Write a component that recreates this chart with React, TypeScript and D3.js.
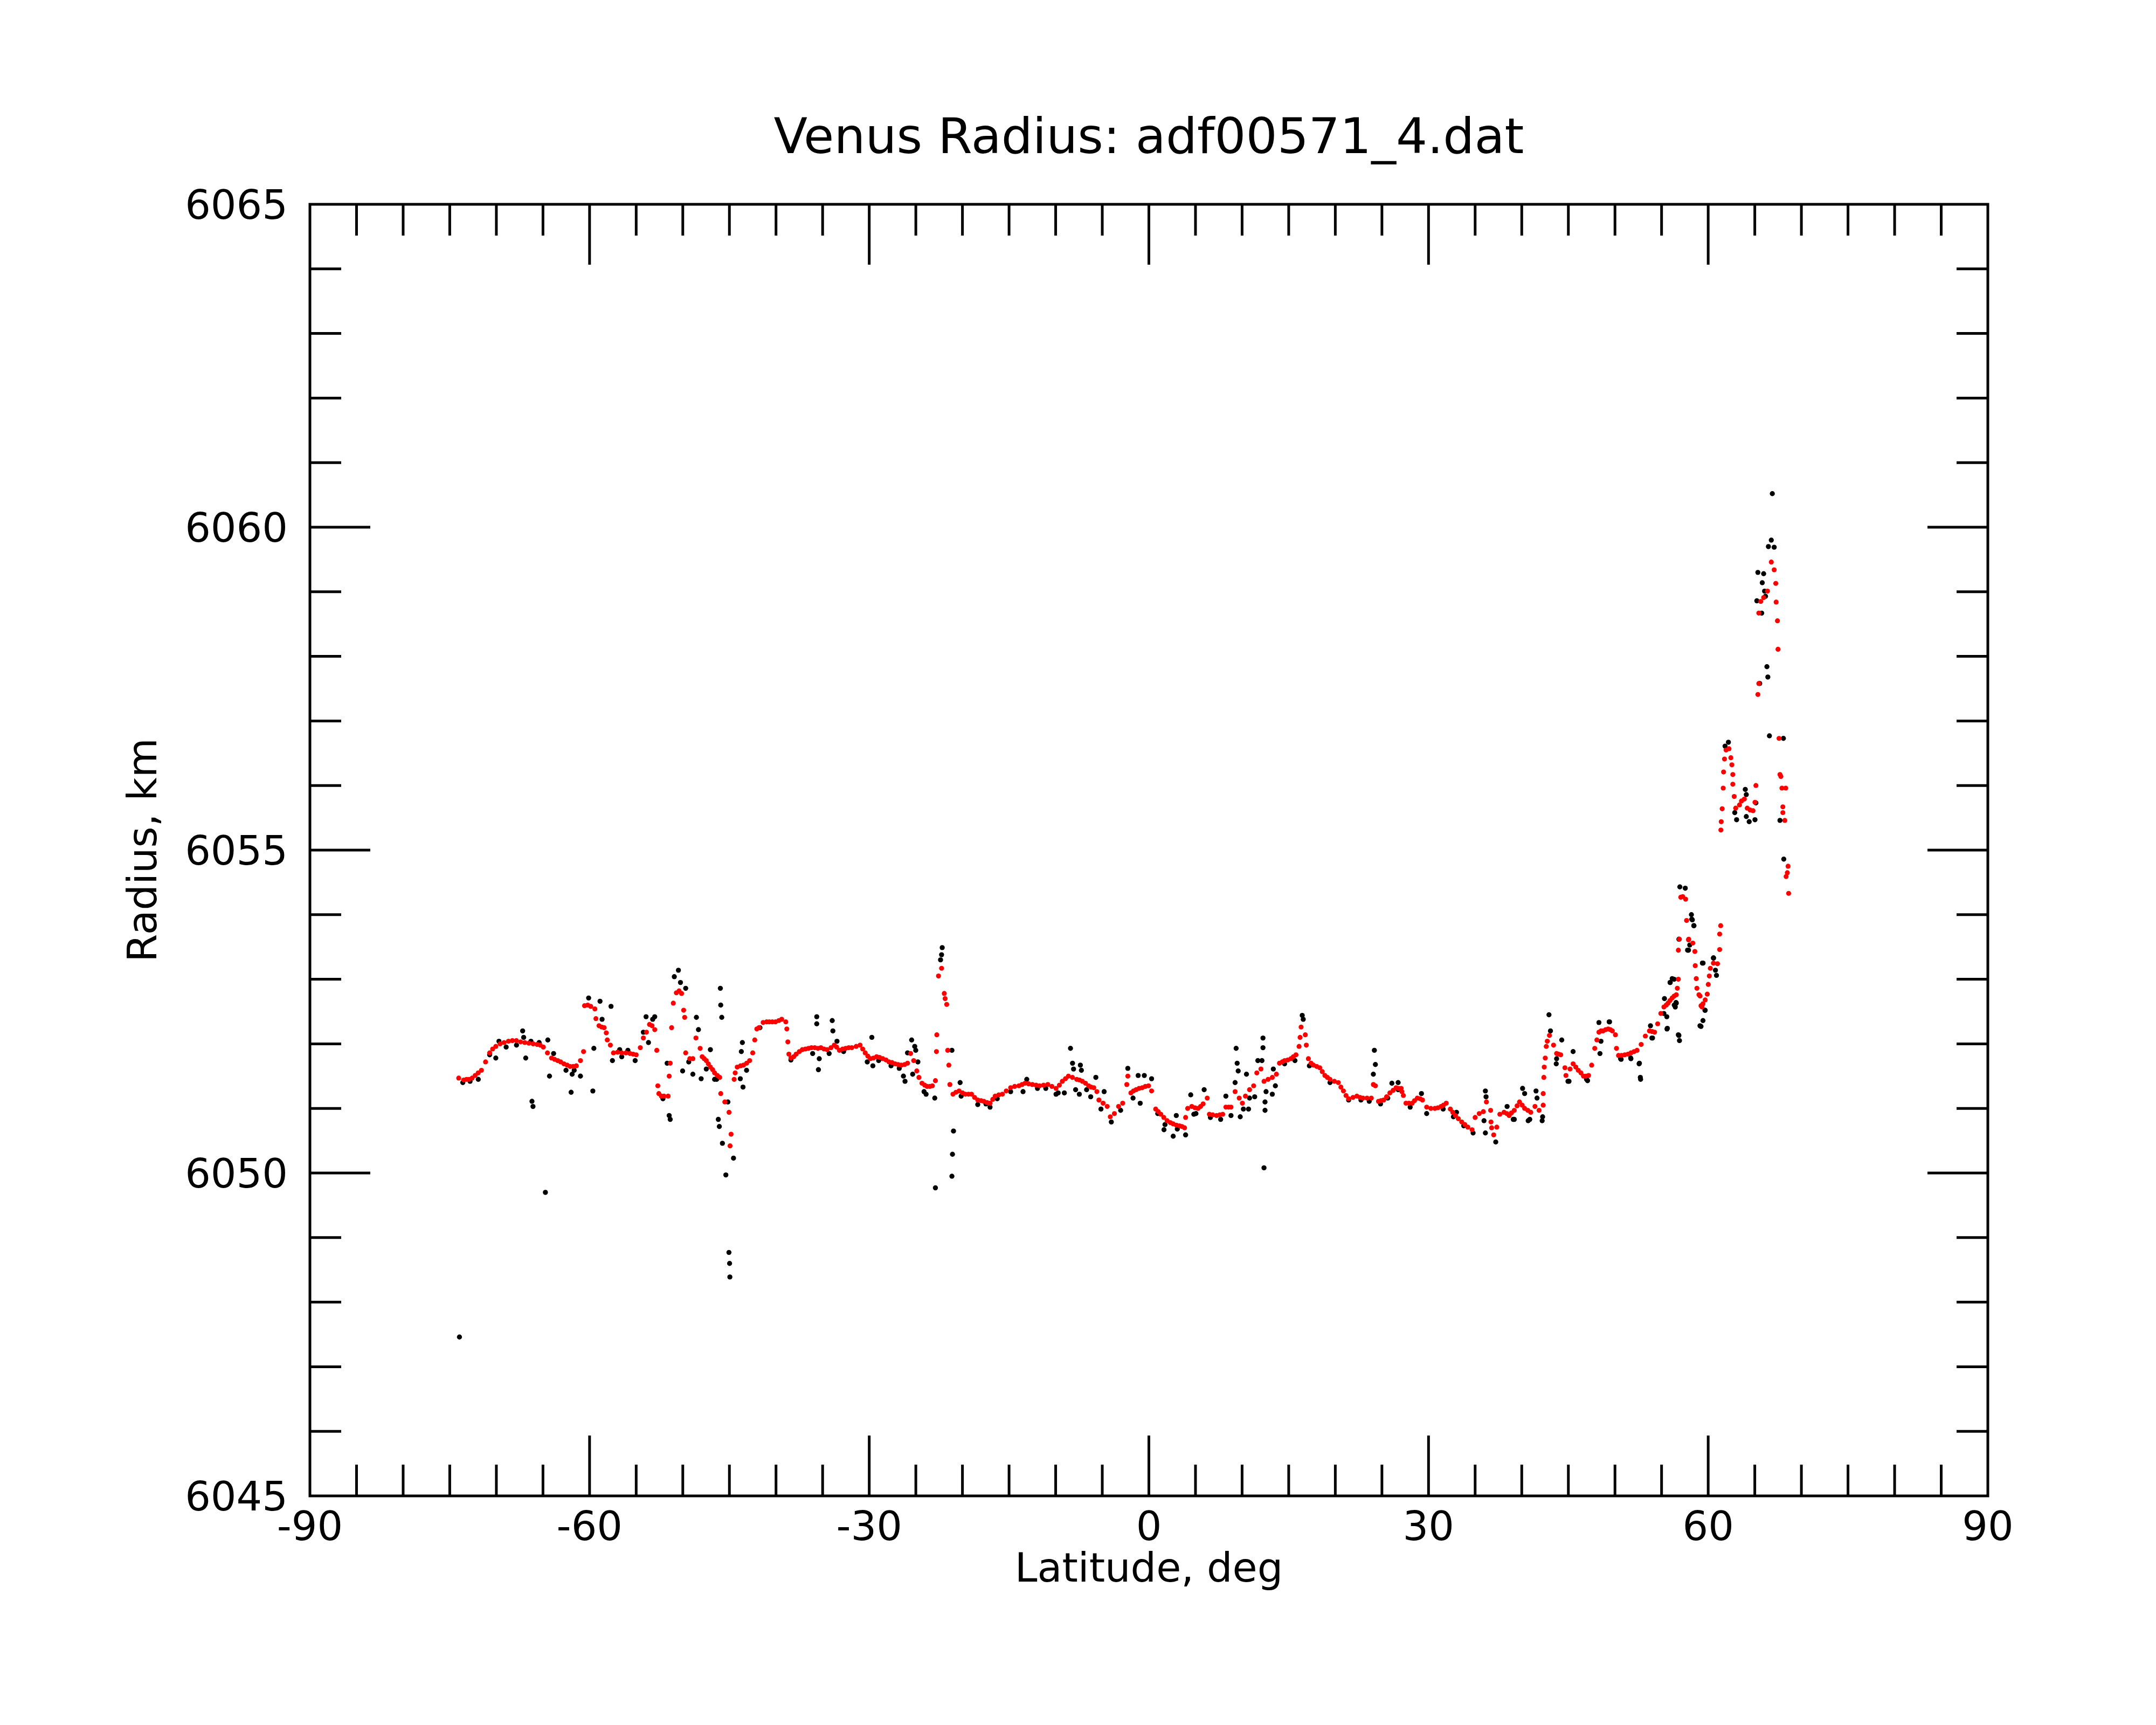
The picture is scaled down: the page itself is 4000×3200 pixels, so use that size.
import { useEffect, useRef } from "react";
import * as d3 from "d3";

// [latitude deg, radius km]
// black = raw samples, red = smoothed samples

const rawSouth: [number, number][] = [
  [-73.96, 6047.46], [-73.60, 6051.40], [-72.82, 6051.42], [-71.94, 6051.45], [-70.72, 6051.83],
  [-70.06, 6051.78], [-69.72, 6052.04], [-68.95, 6051.95], [-67.84, 6051.98], [-67.18, 6052.20],
  [-67.07, 6052.10], [-66.85, 6051.78], [-66.29, 6052.04], [-66.18, 6051.11], [-66.07, 6051.03],
  [-65.41, 6052.02], [-64.74, 6049.70], [-64.48, 6052.06], [-64.30, 6051.50], [-63.86, 6051.85],
  [-62.53, 6051.59], [-61.98, 6051.25], [-61.87, 6051.53], [-61.65, 6051.59], [-60.98, 6051.50],
  [-60.10, 6052.71], [-59.65, 6051.27], [-59.54, 6051.93], [-58.88, 6052.66], [-58.66, 6052.38],
  [-57.70, 6052.58], [-57.55, 6051.74], [-56.77, 6051.91], [-56.55, 6051.80], [-55.89, 6051.90],
  [-55.11, 6051.74], [-54.23, 6052.18], [-53.94, 6052.42], [-53.68, 6052.02], [-53.23, 6052.38],
  [-53.01, 6052.42], [-52.13, 6051.15], [-51.68, 6051.70], [-51.46, 6050.89], [-51.35, 6050.83],
  [-50.91, 6053.04], [-50.47, 6053.14], [-50.25, 6052.95], [-50.02, 6051.58], [-49.69, 6052.86],
  [-49.36, 6051.72], [-48.92, 6051.53], [-48.54, 6052.41], [-48.32, 6052.22], [-48.03, 6051.46],
  [-47.48, 6051.61], [-47.04, 6051.91], [-46.59, 6051.45], [-46.37, 6051.45], [-46.19, 6050.83],
  [-46.08, 6050.72], [-45.97, 6052.86], [-45.93, 6052.60], [-45.82, 6052.41], [-45.75, 6050.46],
  [-45.38, 6049.97], [-45.16, 6051.10], [-45.05, 6048.77], [-44.98, 6048.60], [-44.95, 6048.39],
  [-44.56, 6050.23], [-43.83, 6051.46], [-43.72, 6051.88], [-43.61, 6052.02], [-43.54, 6051.33],
  [-43.16, 6051.59], [-41.72, 6052.25],
];

const rawMid: [number, number][] = [
  [-38.40, 6051.75], [-36.07, 6051.85], [-35.63, 6052.42], [-35.63, 6052.31], [-35.45, 6051.60],
  [-35.36, 6051.77], [-34.30, 6051.85], [-33.97, 6052.36], [-33.90, 6052.20], [-33.46, 6052.04],
  [-32.75, 6051.88], [-30.21, 6051.72], [-29.72, 6052.10], [-29.61, 6051.66], [-28.99, 6051.74],
  [-27.66, 6051.66], [-26.78, 6051.62], [-26.33, 6051.50], [-26.16, 6051.42], [-25.89, 6051.86],
  [-25.45, 6052.06], [-25.34, 6051.53], [-25.12, 6051.96], [-25.01, 6051.90], [-24.78, 6051.72],
  [-24.12, 6051.26], [-23.90, 6051.22], [-22.97, 6051.16], [-22.90, 6049.77], [-22.35, 6053.30],
  [-22.24, 6053.38], [-22.17, 6053.49], [-21.13, 6051.90], [-21.13, 6049.95], [-21.07, 6050.29],
  [-20.96, 6050.65], [-20.25, 6051.40], [-20.14, 6051.19], [-18.36, 6051.06], [-17.48, 6051.07],
  [-17.04, 6051.02], [-16.27, 6051.15], [-14.83, 6051.26], [-13.50, 6051.26], [-13.10, 6051.45],
  [-11.95, 6051.31], [-11.06, 6051.31], [-9.96, 6051.22], [-9.73, 6051.24], [-9.07, 6051.24],
  [-8.41, 6051.93], [-8.19, 6051.70], [-8.08, 6051.61], [-7.86, 6051.29],
];

const rawEquator: [number, number][] = [
  [-7.46, 6051.22], [-7.35, 6051.67], [-7.24, 6051.59], [-6.68, 6051.29], [-6.24, 6051.18],
  [-5.69, 6051.48], [-5.14, 6050.99], [-4.80, 6051.26], [-4.03, 6050.79], [-3.03, 6050.97],
  [-2.26, 6051.62], [-1.70, 6051.16], [-1.15, 6051.51], [-0.93, 6051.08], [-0.49, 6051.51],
  [0.29, 6051.46], [0.95, 6050.92], [1.62, 6050.67], [1.73, 6050.75], [2.61, 6050.57],
  [2.94, 6050.89], [3.05, 6050.68], [3.94, 6050.59], [4.49, 6051.21], [4.82, 6050.91],
  [5.05, 6050.92], [5.93, 6051.29], [6.60, 6050.86], [7.70, 6050.83], [8.26, 6051.19],
  [8.81, 6050.89], [9.25, 6051.40], [9.36, 6051.93], [9.47, 6051.70], [9.58, 6051.58],
  [9.80, 6050.87], [10.14, 6050.99], [10.47, 6051.53], [10.69, 6050.99], [10.80, 6051.16],
  [11.35, 6051.18], [11.69, 6051.74], [12.13, 6051.74], [12.24, 6052.09], [12.24, 6051.94],
  [12.35, 6050.08], [12.46, 6051.10], [12.46, 6050.97], [12.57, 6051.26], [13.24, 6051.22],
  [13.35, 6051.61], [13.57, 6051.35], [14.56, 6051.69], [15.67, 6051.74], [16.45, 6052.44],
  [16.56, 6052.38], [17.22, 6051.66], [19.43, 6051.40], [21.43, 6051.13], [22.75, 6051.13],
  [23.64, 6051.11], [24.08, 6051.53], [24.19, 6051.90], [24.30, 6051.68], [24.85, 6051.07],
  [25.63, 6051.16], [26.07, 6051.39], [26.74, 6051.40], [26.74, 6051.29],
];

const rawNorth: [number, number][] = [
  [28.03, 6051.02], [29.24, 6051.23], [29.80, 6050.92], [31.57, 6050.99], [32.67, 6050.87],
  [33.00, 6050.94], [33.78, 6050.73], [34.78, 6050.62], [35.95, 6050.81], [36.10, 6051.27],
  [36.17, 6051.18], [36.10, 6050.62], [37.21, 6050.48], [38.43, 6051.03], [39.09, 6050.83],
  [39.20, 6050.83], [40.09, 6051.31], [40.31, 6051.23], [40.69, 6050.81], [40.86, 6050.83],
  [41.53, 6051.27], [41.64, 6051.16], [42.19, 6050.81], [42.24, 6050.87], [42.92, 6052.45],
  [43.08, 6052.20], [43.70, 6051.69], [43.74, 6051.77], [44.29, 6052.06], [44.96, 6051.42],
  [45.07, 6051.42], [45.51, 6051.88], [46.95, 6051.45], [47.06, 6051.43], [48.28, 6052.33],
  [48.39, 6051.85], [48.50, 6052.04], [49.38, 6052.34], [49.42, 6052.34], [50.60, 6051.77],
  [50.66, 6051.76], [51.69, 6051.78], [51.71, 6051.77], [52.59, 6051.69], [52.62, 6051.70],
  [52.72, 6051.48], [52.75, 6051.45], [53.81, 6052.28], [53.96, 6052.09], [54.03, 6052.09],
  [55.25, 6052.47], [55.31, 6052.70], [55.56, 6052.42], [55.58, 6052.23], [55.62, 6052.24],
  [55.91, 6052.95], [55.93, 6052.95], [56.14, 6053.01], [56.34, 6053.00], [56.36, 6052.60],
  [56.47, 6052.57], [56.55, 6052.64], [56.58, 6052.63], [56.80, 6052.14], [56.86, 6052.13],
  [56.86, 6053.62], [56.92, 6052.05], [56.96, 6054.43], [57.54, 6054.41], [57.79, 6053.45],
  [57.89, 6053.45], [58.02, 6053.53], [58.20, 6054.00], [58.24, 6053.93], [58.30, 6053.92],
  [58.46, 6053.83], [58.47, 6053.83], [59.12, 6052.28], [59.23, 6052.27], [59.38, 6053.25],
  [59.44, 6052.36], [59.45, 6053.25], [59.65, 6052.52], [59.68, 6052.52], [60.56, 6053.33],
  [60.58, 6053.33], [60.78, 6053.14], [60.89, 6053.06],
];

const rawPolar: [number, number][] = [
  [61.81, 6056.61], [62.17, 6056.67], [62.85, 6055.58], [63.05, 6055.47], [63.98, 6055.94],
  [64.09, 6055.86], [64.09, 6055.52], [64.40, 6055.44], [65.02, 6055.47], [65.12, 6055.73],
  [65.22, 6058.86], [65.33, 6059.30], [65.53, 6057.58], [65.74, 6058.67], [65.80, 6059.14],
  [65.95, 6059.28], [66.05, 6059.01], [66.15, 6058.93], [66.30, 6057.84], [66.40, 6057.68],
  [66.46, 6059.70], [66.57, 6056.77], [66.77, 6059.80], [66.88, 6060.52], [67.08, 6059.69],
  [67.70, 6055.46], [68.07, 6056.73], [68.11, 6054.86],
];

const smoothSouth: [number, number][] = [
  [-74.04, 6051.47], [-73.50, 6051.44], [-73.20, 6051.45], [-72.93, 6051.45], [-72.60, 6051.47],
  [-72.27, 6051.51], [-71.95, 6051.55], [-71.60, 6051.59], [-71.16, 6051.72], [-70.72, 6051.86],
  [-70.40, 6051.92], [-70.06, 6051.96], [-69.60, 6052.00], [-69.17, 6052.02], [-68.70, 6052.04],
  [-68.28, 6052.05], [-67.85, 6052.05], [-67.40, 6052.03], [-66.95, 6052.02], [-66.51, 6052.01],
  [-66.05, 6052.00], [-65.63, 6051.99], [-65.30, 6051.98], [-64.96, 6051.95], [-64.52, 6051.86],
  [-64.08, 6051.78], [-63.75, 6051.76], [-63.42, 6051.74], [-63.10, 6051.72], [-62.75, 6051.69],
  [-62.40, 6051.67], [-62.09, 6051.65], [-61.75, 6051.65], [-61.42, 6051.66], [-60.98, 6051.74],
  [-60.65, 6051.88], [-60.54, 6052.59], [-60.20, 6052.60], [-59.87, 6052.58], [-59.43, 6052.54],
  [-59.32, 6052.39], [-58.99, 6052.28], [-58.70, 6052.26], [-58.44, 6052.25], [-58.21, 6052.17],
  [-58.10, 6052.06], [-57.77, 6051.98], [-57.44, 6051.86], [-57.00, 6051.87], [-56.55, 6051.86],
  [-56.10, 6051.86], [-55.67, 6051.85], [-55.33, 6051.84], [-55.00, 6051.83], [-54.56, 6051.94],
  [-54.23, 6052.09], [-53.90, 6052.18], [-53.57, 6052.30], [-53.30, 6052.28], [-53.01, 6052.22],
  [-52.79, 6051.90], [-52.68, 6051.35], [-52.57, 6051.23], [-52.30, 6051.19], [-52.02, 6051.19],
  [-51.57, 6051.19], [-51.46, 6051.50], [-51.35, 6051.70], [-51.20, 6052.25], [-51.02, 6052.63],
  [-50.69, 6052.79], [-50.40, 6052.82], [-50.13, 6052.78], [-49.91, 6052.52], [-49.80, 6052.41],
  [-49.69, 6051.86], [-49.25, 6051.77], [-48.92, 6051.77], [-48.59, 6052.09], [-48.14, 6051.93],
  [-47.92, 6051.80], [-47.70, 6051.77], [-47.48, 6051.74], [-47.26, 6051.69], [-47.04, 6051.64],
  [-46.80, 6051.60], [-46.59, 6051.55], [-46.30, 6051.51], [-46.04, 6051.48], [-45.93, 6051.23],
  [-45.49, 6051.10], [-45.04, 6050.94], [-44.82, 6050.60], [-44.93, 6050.42], [-44.49, 6051.45],
  [-44.38, 6051.55], [-44.16, 6051.64], [-43.80, 6051.66], [-43.49, 6051.67], [-43.15, 6051.70],
  [-42.83, 6051.74], [-42.50, 6051.86], [-42.28, 6052.06], [-42.06, 6052.23],
];

const smoothMid: [number, number][] = [
  [-41.83, 6052.25], [-41.38, 6052.33], [-41.00, 6052.34], [-40.72, 6052.34], [-40.40, 6052.34],
  [-40.06, 6052.34], [-39.70, 6052.36], [-39.39, 6052.38], [-38.95, 6052.34], [-38.84, 6052.23],
  [-38.73, 6052.03], [-38.62, 6051.84], [-38.40, 6051.78], [-38.10, 6051.80], [-37.84, 6051.84],
  [-37.50, 6051.88], [-37.18, 6051.91], [-36.85, 6051.92], [-36.52, 6051.93], [-36.20, 6051.94],
  [-35.85, 6051.94], [-35.50, 6051.93], [-35.19, 6051.94], [-34.85, 6051.92], [-34.52, 6051.91],
  [-34.10, 6051.94], [-33.75, 6051.98], [-33.50, 6051.95], [-33.20, 6051.90], [-32.85, 6051.92],
  [-32.53, 6051.93], [-32.20, 6051.94], [-31.87, 6051.94], [-31.40, 6051.96], [-30.98, 6051.98],
  [-30.70, 6051.92], [-30.43, 6051.86], [-30.15, 6051.81], [-29.88, 6051.77], [-29.55, 6051.78],
  [-29.21, 6051.80], [-28.90, 6051.79], [-28.55, 6051.77], [-28.20, 6051.75], [-27.88, 6051.72],
  [-27.55, 6051.71], [-27.22, 6051.69], [-26.90, 6051.68], [-26.56, 6051.67], [-26.20, 6051.68],
  [-25.89, 6051.70], [-25.56, 6051.85], [-25.23, 6051.74], [-24.90, 6051.58], [-24.67, 6051.48],
  [-24.34, 6051.39], [-24.05, 6051.36], [-23.79, 6051.34], [-23.50, 6051.34], [-23.23, 6051.35],
  [-22.90, 6051.43], [-22.79, 6051.88], [-22.75, 6052.14], [-22.57, 6053.05], [-22.24, 6053.17],
  [-21.95, 6052.78], [-21.86, 6052.70], [-21.69, 6052.61], [-21.58, 6051.90], [-21.46, 6051.67],
  [-21.35, 6051.37], [-21.02, 6051.22], [-20.70, 6051.25], [-20.36, 6051.27], [-20.00, 6051.24],
  [-19.69, 6051.22], [-19.35, 6051.22], [-19.03, 6051.22], [-18.70, 6051.17], [-18.36, 6051.13],
  [-18.00, 6051.12], [-17.70, 6051.11], [-17.35, 6051.09], [-17.04, 6051.08], [-16.75, 6051.14],
  [-16.49, 6051.19], [-16.10, 6051.21], [-15.71, 6051.22], [-15.30, 6051.27], [-14.83, 6051.32],
  [-14.40, 6051.34], [-13.94, 6051.35], [-13.60, 6051.37], [-13.28, 6051.39], [-12.90, 6051.38],
  [-12.50, 6051.37], [-12.10, 6051.36], [-11.73, 6051.35], [-11.30, 6051.36], [-10.84, 6051.37],
  [-10.40, 6051.34], [-9.96, 6051.31], [-9.60, 6051.36], [-9.29, 6051.42], [-8.95, 6051.46],
  [-8.63, 6051.50], [-8.20, 6051.48], [-7.74, 6051.45],
];

const smoothEquator: [number, number][] = [
  [-7.45, 6051.44], [-7.13, 6051.42], [-6.80, 6051.39], [-6.46, 6051.35], [-6.20, 6051.33],
  [-5.91, 6051.32], [-5.58, 6051.26], [-5.36, 6051.13], [-4.91, 6051.08], [-4.47, 6051.03],
  [-4.14, 6050.87], [-3.70, 6050.92], [-3.25, 6051.03], [-2.81, 6051.08], [-2.37, 6051.37],
  [-2.26, 6051.50], [-1.93, 6051.24], [-1.65, 6051.27], [-1.37, 6051.29], [-1.05, 6051.31],
  [-0.71, 6051.32], [-0.38, 6051.34], [-0.04, 6051.35], [0.29, 6051.27], [0.73, 6050.99],
  [1.00, 6050.95], [1.28, 6050.91], [1.60, 6050.86], [1.95, 6050.81], [2.30, 6050.78],
  [2.61, 6050.76], [2.95, 6050.74], [3.28, 6050.73], [3.55, 6050.72], [3.83, 6050.70],
  [3.94, 6050.86], [4.16, 6051.00], [4.60, 6051.03], [4.95, 6051.01], [5.27, 6051.00],
  [5.55, 6051.03], [5.82, 6051.07], [6.26, 6051.16], [6.49, 6050.91], [6.85, 6050.90],
  [7.26, 6050.89], [7.60, 6050.90], [7.92, 6050.91], [8.26, 6051.02], [8.55, 6051.02],
  [8.81, 6051.02], [9.25, 6051.26], [9.69, 6051.16], [10.03, 6051.08], [10.36, 6051.19],
  [10.80, 6051.29], [11.24, 6051.35], [11.58, 6051.55], [12.02, 6051.61], [12.35, 6051.42],
  [12.79, 6051.45], [13.24, 6051.48], [13.68, 6051.53], [14.01, 6051.70], [14.30, 6051.72],
  [14.56, 6051.74], [14.90, 6051.75], [15.23, 6051.77], [15.50, 6051.80], [15.78, 6051.83],
  [16.11, 6051.96], [16.22, 6052.10], [16.33, 6052.26], [16.78, 6052.14], [16.89, 6051.98],
  [17.11, 6051.77], [17.40, 6051.70], [17.66, 6051.67], [18.00, 6051.65], [18.33, 6051.63],
  [18.60, 6051.57], [18.88, 6051.51], [19.15, 6051.48], [19.43, 6051.45], [19.90, 6051.42],
  [20.32, 6051.40], [20.60, 6051.33], [20.87, 6051.27], [21.15, 6051.20], [21.43, 6051.15],
  [21.90, 6051.17], [22.31, 6051.19], [22.65, 6051.17], [22.97, 6051.16], [23.40, 6051.16],
  [23.86, 6051.16], [24.08, 6051.37], [24.30, 6051.35], [24.63, 6051.11], [24.90, 6051.12],
  [25.19, 6051.13], [25.50, 6051.18], [25.85, 6051.24], [26.20, 6051.28], [26.52, 6051.32],
  [26.80, 6051.31], [27.07, 6051.31],
];

const smoothNorth: [number, number][] = [
  [27.14, 6051.26], [27.30, 6051.20], [27.58, 6051.08], [27.90, 6051.08], [28.25, 6051.08],
  [28.50, 6051.12], [28.80, 6051.16], [29.10, 6051.15], [29.35, 6051.13], [29.80, 6051.02],
  [30.25, 6051.00], [30.68, 6051.00], [31.00, 6051.01], [31.35, 6051.03], [31.60, 6051.05],
  [31.90, 6051.08], [32.34, 6050.99], [32.60, 6050.94], [32.89, 6050.89], [33.20, 6050.84],
  [33.56, 6050.79], [33.90, 6050.75], [34.22, 6050.71], [34.67, 6050.67], [35.00, 6050.86],
  [35.44, 6050.92], [35.88, 6050.95], [36.21, 6051.10], [36.66, 6050.97], [36.70, 6050.79],
  [36.77, 6050.70], [36.99, 6050.59], [37.32, 6050.71], [37.65, 6050.91], [38.10, 6050.94],
  [38.40, 6050.92], [38.65, 6050.89], [38.90, 6050.93], [39.20, 6050.97], [39.50, 6051.04],
  [39.76, 6051.10], [40.05, 6051.05], [40.31, 6051.00], [40.65, 6050.97], [40.97, 6050.94],
  [41.42, 6051.03], [41.86, 6050.97], [42.30, 6051.05], [42.30, 6051.23], [42.37, 6051.48],
  [42.41, 6051.64], [42.52, 6051.78], [42.63, 6051.96], [42.74, 6052.04], [42.97, 6052.13],
  [43.41, 6051.98], [43.74, 6051.85], [43.95, 6051.84], [44.18, 6051.83], [44.63, 6051.63],
  [44.74, 6051.51], [45.18, 6051.61], [45.51, 6051.69], [45.80, 6051.64], [46.06, 6051.59],
  [46.35, 6051.55], [46.62, 6051.50], [46.90, 6051.50], [47.17, 6051.51], [47.50, 6051.67],
  [47.83, 6051.93], [48.06, 6052.06], [48.28, 6052.18], [48.50, 6052.20], [48.72, 6052.20],
  [49.00, 6052.22], [49.27, 6052.23], [49.50, 6052.22], [49.72, 6052.20], [50.05, 6052.14],
  [50.16, 6051.93], [50.38, 6051.82], [50.70, 6051.82], [51.05, 6051.83], [51.40, 6051.84],
  [51.71, 6051.86], [52.05, 6051.88], [52.37, 6051.90], [52.81, 6051.99], [53.26, 6052.12],
  [53.70, 6052.20], [54.00, 6052.19], [54.25, 6052.18], [54.58, 6052.31], [54.92, 6052.47],
  [55.25, 6052.57], [55.50, 6052.60], [55.69, 6052.63], [55.90, 6052.67], [56.14, 6052.71],
  [56.35, 6052.74], [56.58, 6052.76], [56.69, 6052.86], [56.80, 6053.00], [56.80, 6053.45],
  [56.91, 6053.62], [57.06, 6054.27], [57.27, 6054.28], [57.58, 6054.24], [57.68, 6053.91],
  [57.89, 6053.61], [57.91, 6053.62], [58.35, 6053.56], [58.57, 6053.43], [58.61, 6053.21],
  [58.72, 6053.01], [58.79, 6052.86], [59.01, 6052.76], [59.13, 6052.74], [59.23, 6052.59],
  [59.34, 6052.57], [59.44, 6052.62], [59.68, 6052.68], [59.90, 6052.77], [60.01, 6052.92],
  [60.12, 6053.05], [60.23, 6053.17], [60.56, 6053.25], [61.00, 6053.24], [61.23, 6053.46],
  [61.23, 6053.70], [61.34, 6053.83],
];

const smoothPolar: [number, number][] = [
  [61.36, 6055.31], [61.40, 6055.44], [61.50, 6055.64], [61.61, 6055.96], [61.65, 6056.21],
  [61.75, 6056.41], [61.92, 6056.55], [62.23, 6056.57], [62.43, 6056.43], [62.54, 6056.32],
  [62.64, 6056.17], [62.64, 6056.02], [62.79, 6055.83], [62.95, 6055.65], [63.36, 6055.70],
  [63.57, 6055.76], [63.88, 6055.79], [64.19, 6055.65], [64.50, 6055.62], [64.81, 6055.61],
  [65.02, 6055.74], [65.12, 6056.00], [65.33, 6057.41], [65.43, 6057.58], [65.43, 6058.67],
  [65.64, 6058.85], [65.95, 6058.91], [66.36, 6059.01], [66.77, 6059.46], [67.08, 6059.34],
  [67.25, 6059.13], [67.29, 6058.84], [67.43, 6058.55], [67.49, 6058.11], [67.60, 6056.73],
  [67.70, 6056.17], [67.80, 6056.14], [67.91, 6055.96], [68.32, 6055.96], [68.01, 6055.67],
  [68.01, 6055.58], [68.22, 6055.46], [68.57, 6054.75], [68.49, 6054.65], [68.36, 6054.59],
  [68.63, 6054.33],
];

const xTickLabels = ["-90", "-60", "-30", "0", "30", "60", "90"];
const yTickLabels = ["6045", "6050", "6055", "6060", "6065"];

const TITLE = "Venus Radius: adf00571_4.dat";
const X_TITLE = "Latitude, deg";
const Y_TITLE = "Radius, km";

export default function App() {
  const svgRef = useRef<SVGSVGElement>(null);

  useEffect(() => {
    const svg = d3.select(svgRef.current);
    svg.selectAll("*").remove();

    const width = 4000;
    const height = 3200;
    const margin = { top: 379, right: 312, bottom: 425, left: 575 };
    const W = width - margin.left - margin.right;
    const H = height - margin.top - margin.bottom;
    const font = "DejaVu Sans, sans-serif";

    const x = d3.scaleLinear().domain([-90, 90]).range([0, W]);
    const y = d3.scaleLinear().domain([6045, 6065]).range([H, 0]);

    svg.append("rect").attr("width", width).attr("height", height).attr("fill", "white");

    const g = svg.append("g").attr("transform", `translate(${margin.left},${margin.top})`);

    // points: raw first, smoothed on top
    const raw = [...rawSouth, ...rawMid, ...rawEquator, ...rawNorth, ...rawPolar];
    const smooth = [...smoothSouth, ...smoothMid, ...smoothEquator, ...smoothNorth, ...smoothPolar];

    g.selectAll(".raw")
      .data(raw)
      .enter().append("circle")
      .attr("cx", d => x(d[0]))
      .attr("cy", d => y(d[1]))
      .attr("r", 4.7)
      .attr("fill", "black");

    g.selectAll(".smooth")
      .data(smooth)
      .enter().append("circle")
      .attr("cx", d => x(d[0]))
      .attr("cy", d => y(d[1]))
      .attr("r", 4.6)
      .attr("fill", "#ff0000");

    // frame
    g.append("rect")
      .attr("width", W).attr("height", H)
      .attr("fill", "none").attr("stroke", "black").attr("stroke-width", 5);

    const major = 112;
    const minor = 58;

    // x ticks on top and bottom, every 5 deg, long every 30
    const xt = d3.range(-85, 90, 5);
    xt.forEach(v => {
      const len = v % 30 === 0 ? major : minor;
      g.append("line")
        .attr("x1", x(v)).attr("x2", x(v)).attr("y1", H).attr("y2", H - len)
        .attr("stroke", "black").attr("stroke-width", 5);
      g.append("line")
        .attr("x1", x(v)).attr("x2", x(v)).attr("y1", 0).attr("y2", len)
        .attr("stroke", "black").attr("stroke-width", 5);
    });

    // y ticks left and right, every 1 km, long every 5
    const yt = d3.range(6046, 6065, 1);
    yt.forEach(v => {
      const len = v % 5 === 0 ? major : minor;
      g.append("line")
        .attr("x1", 0).attr("x2", len).attr("y1", y(v)).attr("y2", y(v))
        .attr("stroke", "black").attr("stroke-width", 5);
      g.append("line")
        .attr("x1", W).attr("x2", W - len).attr("y1", y(v)).attr("y2", y(v))
        .attr("stroke", "black").attr("stroke-width", 5);
    });

    // tick labels
    g.selectAll(".xl")
      .data(xTickLabels)
      .enter().append("text")
      .attr("x", d => x(+d))
      .attr("y", H + 82)
      .attr("text-anchor", "middle")
      .attr("font-family", font).attr("font-size", 75)
      .text(d => d);

    g.selectAll(".yl")
      .data(yTickLabels)
      .enter().append("text")
      .attr("x", -41)
      .attr("y", d => y(+d))
      .attr("dy", "0.36em")
      .attr("text-anchor", "end")
      .attr("font-family", font).attr("font-size", 75)
      .text(d => d);

    // titles
    svg.append("text")
      .attr("x", margin.left + W / 2).attr("y", 284)
      .attr("text-anchor", "middle")
      .attr("font-family", font).attr("font-size", 91.5)
      .text(TITLE);

    svg.append("text")
      .attr("x", margin.left + W / 2).attr("y", 2934)
      .attr("text-anchor", "middle")
      .attr("font-family", font).attr("font-size", 75)
      .text(X_TITLE);

    svg.append("text")
      .attr("transform", `translate(290,${margin.top + H / 2}) rotate(-90)`)
      .attr("text-anchor", "middle")
      .attr("font-family", font).attr("font-size", 75)
      .text(Y_TITLE);
  }, []);

  return (
    <svg
      ref={svgRef}
      width={4000}
      height={3200}
      style={{ position: "absolute", left: 0, top: 0, display: "block" }}
    />
  );
}
